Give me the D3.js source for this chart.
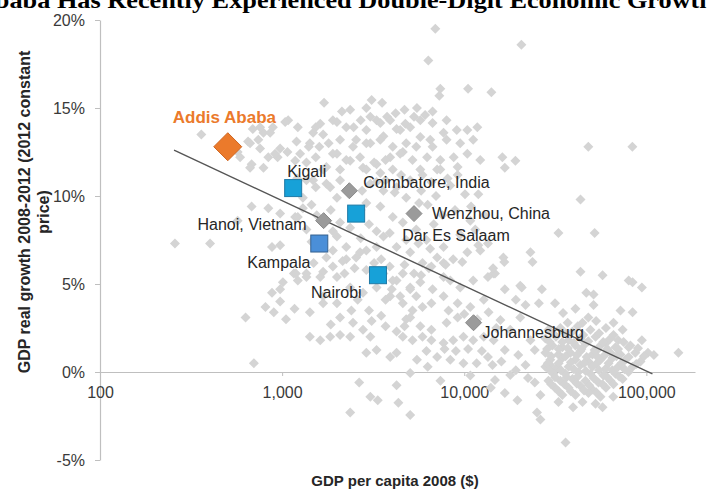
<!DOCTYPE html>
<html>
<head>
<meta charset="utf-8">
<script src="https://cdn.jsdelivr.net/npm/d3@7"></script>
<style>
  html, body { margin: 0; padding: 0; background: #fff; overflow: hidden; }
  svg { display: block; font-family: "Liberation Sans", Arial, sans-serif; }
</style>
</head>
<body>
<svg id="chart" width="707" height="491"></svg>
<script>
// ---- chart text ----
const titleText = "Addis Ababa Has Recently Experienced Double-Digit Economic Growth";
const xAxisTitle = "GDP per capita 2008 ($)";
const yAxisTitleLines = ["GDP real growth 2008-2012 (2012 constant", "price)"];

// ---- axis ticks ----
const xTicks = [100, 1000, 10000, 100000];
const yTicks = [-5, 0, 5, 10, 15, 20];

// ---- all other cities: [GDP per capita 2008 ($), real growth 2008-2012 (%)] ----
const otherCities = [
  [6940,19.5],[6350,17.7],[20600,18.6],[7390,16.1],[7300,15.7],[10500,16.1],[14100,15.9],[48000,12.8],
  [83800,12.8],[43500,9.8],[32900,7.9],[52000,7.9],[16200,12.2],[19100,12.0],[16700,11.6],
  [1080,14.3],[360,13.5],[690,13.8],[790,13.6],[890,13.9],[650,13.1],[740,13.2],[975,12.7],[1070,12.5],
  [570,12.5],[680,11.8],[790,11.6],[945,12.2],[1180,12.0],[1210,11.0],[680,9.4],[840,9.3],[975,9.0],
  [1180,8.8],[570,8.6],[258,7.3],[402,7.3],
  [880,7.1],[975,7.2],[1220,5.2],[1160,5.6],[880,4.5],[975,4.7],[810,3.7],[900,3.4],[975,4.0],
  [1170,3.6],[1050,3.0],[630,3.1],[700,0.5],
  [1700,15.3],[2365,14.9],[2900,15.0],[3300,14.3],[2000,14.2],[2250,13.9],[1530,13.9],[1680,13.5],
  [1220,13.9],[1040,14.2],[757,13.9],[860,13.6],[667,13.0],[757,12.7],[840,12.2],[915,12.4],[667,11.6],
  [588,12.2],[2550,13.2],[3050,13.0],[3600,13.4],[4250,13.8],[4750,14.1],[2000,12.4],[2365,12.0],
  [2780,11.6],[3300,11.8],[3920,12.2],[4600,12.5],[5450,12.8],[6510,13.2],[7700,13.6],[1530,12.2],
  [1680,11.5],[1360,10.9],[1530,10.5],[1836,10.5],[2000,9.9],[3050,10.7],[3600,10.3],[4250,10.5],
  [5050,10.9],[5900,11.2],[7100,11.5],[2900,9.6],[3460,9.4],[4050,8.8],[4600,8.5],[5450,8.1],
  [2080,8.5],[2365,8.2],[2000,7.7],[1300,9.3],[1220,8.8],[1360,8.1],[1680,7.5],[1900,6.9],[2250,7.1],
  [2550,6.5],[2900,6.9],[1490,6.2],[1680,5.7],[1360,5.4],[2000,5.4],[2365,4.8],[2780,4.5],[1190,5.6],
  [1010,5.1],[3600,5.6],[4250,5.2],[5050,4.8],[1680,4.3],[2000,3.9],[3920,4.3],[4600,3.9],[5450,4.3],
  [6700,4.7],[7700,5.4],[5900,6.2],[7100,6.5],[7700,7.1],[3600,7.7],[4250,7.1],[5050,6.8],
  [1360,5.6],[1620,5.4],[1900,6.0],[2250,6.4],[2680,6.8],[3300,7.1],[1680,3.9],[1420,3.4],[2080,3.1],
  [2450,2.8],[2780,2.4],[2365,2.0],[1420,2.0],[1620,1.8],[1836,2.0],[2080,2.1],[3050,2.0],[3300,1.25],
  [2900,1.1],[3920,0.85],[4250,1.1],[3700,2.6],[4250,2.3],[4800,3.0],[5200,3.5],[5900,3.7],[6600,3.9],
  [3700,4.1],[4450,4.3],[5050,4.7],[5740,5.1],[4050,5.2],[4600,5.6],[6600,6.0],[7700,6.2],[8700,6.4],
  [10400,6.8],[12250,6.9],[13500,7.3],[8385,5.2],[9500,4.8],[11200,5.2],[13500,5.4],[14500,5.6],
  [7700,4.3],[9200,3.9],[10800,3.7],[12800,4.1],[5050,3.1],[5740,2.6],[6600,2.4],[8000,2.8],[9200,3.1],
  [4600,2.0],[5200,1.8],[5900,2.0],[6600,1.8],[7700,1.65],[8700,1.8],[9900,2.0],[11200,1.8],[12800,2.0],
  [14500,1.8],[7100,0.85],[8385,0.7],[9900,0.5],[11700,0.5],[13500,0.85],[5050,-0.06],[10800,-0.2],
  [2650,-0.6],[4250,-0.75],[3050,-1.4],[3350,-1.6],[4350,-1.75],[2365,-2.3],[5050,-2.45],
  [7400,-0.5],[14000,-0.9],
  [23100,6.8],[23700,6.25],[16600,6.25],[43500,5.7],[57500,5.5],[84000,5.1],[94500,4.8],[14750,5.6],
  [16700,4.7],[20700,4.8],[26700,4.7],[25700,3.9],[21700,3.8],[19200,4.1],[31500,3.9],[34900,3.35],
  [40800,3.6],[46800,4.5],[51300,4.4],[51300,3.8],[48000,3.1],[44600,2.8],[72100,3.5],[84000,3.4],
  [66000,2.8],[74100,2.4],[94500,1.8],[102000,1.1],[110000,0.97],[53700,1.25],[60000,1.65],[80000,1.4],
  [29700,0.4],[22400,-0.34],[24400,-0.6],[16700,-1.2],[19600,-1.6],[25100,-2.3],[26200,-2.7],
  [36000,-4.0],[39600,-2.0],[57500,-2.0],[65800,-1.4],[16400,6.5],[80000,5.2],[20300,4.9],[150000,1.1],
  [29000,2.4],[33700,2.5],[39300,2.3],[49300,2.4],[60000,2.5],
  [27900,1.9],[31900,2.0],[37400,1.8],[43500,1.9],[52600,2.0],[63500,1.9],[70000,1.8],
  [30500,1.5],[34600,1.4],[40800,1.5],[46300,1.6],[56000,1.5],[67700,1.4],[81800,1.5],
  [27900,1.1],[32900,1.0],[38300,1.1],[43500,1.2],[50600,1.0],[63500,1.1],[72100,1.0],[87000,1.1],
  [29700,0.7],[34600,0.8],[40800,0.7],[48100,0.6],[56000,0.7],[65100,0.8],[76800,0.7],[92900,0.6],
  [27900,0.3],[31900,0.2],[37400,0.3],[43500,0.4],[50600,0.3],[60000,0.2],[70000,0.3],[84000,0.3],
  [30900,-0.1],[35900,-0.1],[42300,0.0],[49300,-0.1],[58200,-0.2],[67700,-0.1],[79800,0.0],
  [29000,-0.5],[33700,-0.5],[39300,-0.4],[46300,-0.5],[54600,-0.6],[63500,-0.5],[74100,-0.4],
  [31500,-0.9],[37400,-0.9],[43500,-0.8],[50600,-1.0],[60000,-0.9],
  [34600,-1.3],[40800,-1.3],[48100,-1.2],[56000,-1.4],
  [32900,-1.7],[44600,-1.7],[52600,-1.8],
  [31000,2.15],[36000,2.2],[45000,2.1],[55000,2.2],[66000,2.1],
  [29500,1.7],[34500,1.7],[40000,1.65],[48000,1.75],[58000,1.7],[75000,1.7],
  [28500,1.3],[33000,1.3],[37000,1.35],[44000,1.3],[52000,1.25],[61000,1.3],[70000,1.3],[90000,1.35],
  [30000,0.9],[36000,0.9],[41500,0.95],[47000,0.85],[53500,0.9],[59000,0.95],[68500,0.9],[80000,0.85],[97000,0.9],
  [28800,0.5],[33000,0.5],[38500,0.55],[45500,0.5],[53000,0.45],[62000,0.5],[73000,0.5],[88000,0.45],
  [29500,0.1],[34000,0.1],[40000,0.15],[46500,0.05],[55000,0.1],[65000,0.1],[76000,0.15],
  [31500,-0.3],[36500,-0.3],[42000,-0.25],[51500,-0.35],[61000,-0.3],[71000,-0.25],
  [30000,-0.7],[35500,-0.7],[41500,-0.65],[48500,-0.75],[57500,-0.7],[66000,-0.7],
  [33000,-1.1],[38500,-1.1],[45500,-1.05],[53000,-1.15],
  [37000,2.8],[53000,2.9],[42000,2.6],
  [15800,2.95],[17900,2.4],[20300,3.1],[23100,1.8],[16700,1.25],[19800,0.97],[24400,1.25],[21700,0.4],
  [17900,-0.17],[14750,-0.45],[26200,-1.3],[19200,0.1],
  [8200,3.5],[10000,3.3],[11800,3.0],[13600,3.4],[15000,2.5],[12500,1.2],[10500,1.3],[9000,1.2],
  [7800,1.3],[6200,1.2],[5500,0.7],[6300,0.3],[14300,0.4],[16000,0.6],
  [4150,10.2],[5650,9.6],[10900,9.4],[11950,10.1],[6200,7.5],[14400,5.9],[11950,7.2],[9750,6.25],
  [7900,6.1],[6400,5.9],[5800,5.5],[8385,10.6],[10100,10.1],[8900,9.2],[10800,8.6],[12900,8.9],
  [9500,7.8],[11500,8.1],
  [1300,9.9],[1450,9.5],[1850,9.2],[1550,8.9],[1900,8.0],[1450,7.4],[2150,6.3],[1750,6.5],[2500,5.9],
  [2200,5.6],[2900,5.8],[3200,6.2],[3500,6.4],[3900,6.0],[4700,6.1],[5300,5.6],[3300,4.8],[4000,4.7],
  [2600,4.1],[3000,3.5],[3500,3.2],[2400,3.5],[1850,2.7],[3100,2.9],[4700,2.6],[2700,9.2],[3000,8.4],
  [3300,8.0],[2700,7.6],[3900,7.9],[4800,7.5],[5600,7.3],[6500,7.0],[6800,8.4],[7600,8.9],[6300,9.5],
  [7000,10.0],[5800,10.3],[4800,9.9],[2750,10.3],[3300,10.8],[4500,11.2],[6600,10.8],[8100,11.0],
  [9200,11.2],[1400,12.8],[1200,13.1],[1600,12.8],[1800,13.0],[2700,14.3],[3050,14.5],[4200,14.7],
  [4700,14.9],[5300,14.5],[6100,14.6],
  [3100,15.45],[3540,15.3],[2130,14.8],[5500,15.0],[6700,14.8],[3770,14.5],[1900,14.3],[1620,14.1],
  [1480,13.6],[2470,13.9],[2900,13.75],[3460,14.15],[3920,14.3],[4450,13.75],[5050,13.9],[5740,14.3],
  [6700,14.15],[8000,14.3],[9100,13.75],[10400,13.75],[11800,13.9],[2080,13.2],[2450,12.8],[2900,13.0],
  [3460,13.2],[4050,12.8],[4800,13.0],[5740,13.35],[6700,12.8],[8000,13.2],[9500,13.0],[11200,13.2],
  [1900,12.4],[2250,12.05],[2680,12.2],[3200,11.9],[3700,12.05],[4450,12.4],[5200,12.05],[6250,12.2],
  [7390,12.05],[8750,12.2],[10400,12.4],[12250,12.05],[1750,11.65],[2080,11.5],[2900,11.5],[3460,11.3],
  [4050,11.5],[5740,11.5],[7390,11.5],[9200,11.65],[1480,10.9],[1750,10.7],[2080,10.9],[3700,10.9],
  [1420,13.0],[1256,12.4],[1360,11.9]
];

// ---- named cities ----
const highlightNames  = ["Addis Ababa", "Kigali", "Coimbatore, India", "Dar Es Salaam", "Wenzhou, China",
                         "Hanoi, Vietnam", "Kampala", "Nairobi", "Johannesburg"];
const highlightGdp    = [503, 1150, 2340, 2550, 5300, 1690, 1600, 3360, 11250];
const highlightGrowth = [12.8, 10.45, 10.3, 9.0, 9.0, 8.6, 7.3, 5.5, 2.8];
const highlightGroup  = ["focus", "eastAfrica", "peer", "eastAfrica", "peer", "peer", "eastAfrica", "eastAfrica", "peer"];

// ---- log trend line ----
const trendGdp    = [255, 108000];
const trendGrowth = [12.6, -0.1];

// ================= drawing =================
const svg = d3.select("#chart");

const x = d3.scaleLog().domain([100, 185000]).range([100, 695]);
const y = d3.scaleLinear().domain([-5, 20]).range([460, 20]);

const axisColor = "#bfbfbf";
const tickTextColor = "#3a3a3a";

// title (wider than the canvas, so it runs off both sides)
svg.append("text")
  .attr("x", -95).attr("y", 8)
  .attr("textLength", 809).attr("lengthAdjust", "spacingAndGlyphs")
  .style("font-family", "'Liberation Serif', 'DejaVu Serif', serif")
  .style("font-weight", "bold").style("font-size", "23px").attr("fill", "#000")
  .text(titleText);

// y axis
const yAxis = svg.append("g")
  .attr("transform", `translate(${x(100)},0)`)
  .call(d3.axisLeft(y).tickValues(yTicks).tickFormat(d => d + "%")
        .tickSizeInner(5).tickSizeOuter(0).tickPadding(10));

// x axis at the 0% line
const xAxis = svg.append("g")
  .attr("transform", `translate(0,${y(0)})`)
  .call(d3.axisBottom(x).tickValues(xTicks).tickFormat(d3.format(","))
        .tickSizeInner(4).tickSizeOuter(0).tickPadding(11));

[xAxis, yAxis].forEach(g => {
  g.select(".domain").attr("stroke", axisColor).attr("stroke-width", 1.2);
  g.selectAll(".tick line").attr("stroke", axisColor);
  g.selectAll(".tick text")
    .attr("fill", tickTextColor)
    .style("font-family", "'Liberation Sans', Arial, sans-serif")
    .style("font-size", "16px");
});

// axis titles
svg.append("text")
  .attr("x", 395).attr("y", 486).attr("text-anchor", "middle")
  .attr("fill", "#262626").style("font-weight", "bold").style("font-size", "15px")
  .text(xAxisTitle);

const yTitle = svg.append("text")
  .attr("transform", "translate(0,212) rotate(-90)")
  .attr("text-anchor", "middle")
  .attr("fill", "#262626").style("font-weight", "bold").style("font-size", "16px");
yAxisTitleLines.forEach((line, i) => {
  yTitle.append("tspan").attr("x", 0).attr("y", 30 + i * 19).text(line);
});

// diamond path of a given half-diagonal
const diamond = r => `M0,${-r}L${r},0L0,${r}L${-r},0Z`;

// background cities
svg.append("g").selectAll("path")
  .data(otherCities)
  .join("path")
  .attr("d", diamond(5))
  .attr("transform", d => `translate(${x(d[0])},${y(d[1])})`)
  .attr("fill", "#d4d4d4");

// trend line
svg.append("path")
  .datum(d3.zip(trendGdp, trendGrowth))
  .attr("d", d3.line().x(d => x(d[0])).y(d => y(d[1])))
  .attr("fill", "none").attr("stroke", "#555").attr("stroke-width", 1.4);

// highlighted cities
const highlights = highlightNames.map((name, i) => ({
  name, gdp: highlightGdp[i], growth: highlightGrowth[i], group: highlightGroup[i]
}));

const squareFill = name => name === "Kampala" ? "#4b8fd8" : "#17a1d8";
const squareStroke = name => name === "Kampala" ? "#35618f" : "#1f7aa6";

const marks = svg.append("g");
highlights.forEach(d => {
  const g = marks.append("g").attr("transform", `translate(${x(d.gdp)},${y(d.growth)})`);
  if (d.group === "focus") {
    g.append("path").attr("d", diamond(14)).attr("fill", "#eb7a2b").attr("stroke", "#cf6520");
  } else if (d.group === "peer") {
    g.append("path").attr("d", diamond(8)).attr("fill", "#9b9b9b").attr("stroke", "#8a8a8a");
  } else {
    g.append("rect").attr("x", -8.5).attr("y", -8.5).attr("width", 17).attr("height", 17)
      .attr("fill", squareFill(d.name)).attr("stroke", squareStroke(d.name));
  }
});

// label offsets from each mark (dx, dy, anchor)
const labelOffsets = {
  "Addis Ababa":       [-55, -24, "start"],
  "Kigali":            [-6, -11, "start"],
  "Coimbatore, India": [14, -3, "start"],
  "Dar Es Salaam":     [46, 27, "start"],
  "Wenzhou, China":    [18, 5, "start"],
  "Hanoi, Vietnam":    [-17, 9, "end"],
  "Kampala":           [-72, 24, "start"],
  "Nairobi":           [-67, 23, "start"],
  "Johannesburg":      [9, 15, "start"]
};

const labels = svg.append("g");
highlights.forEach(d => {
  const [dx, dy, anchor] = labelOffsets[d.name];
  const t = labels.append("text")
    .attr("x", x(d.gdp) + dx).attr("y", y(d.growth) + dy)
    .attr("text-anchor", anchor)
    .text(d.name);
  if (d.group === "focus") {
    t.attr("fill", "#eb7a2b").style("font-weight", "bold").style("font-size", "17px");
  } else {
    t.attr("fill", "#262626").style("font-size", "16px");
  }
});
</script>
</body>
</html>
